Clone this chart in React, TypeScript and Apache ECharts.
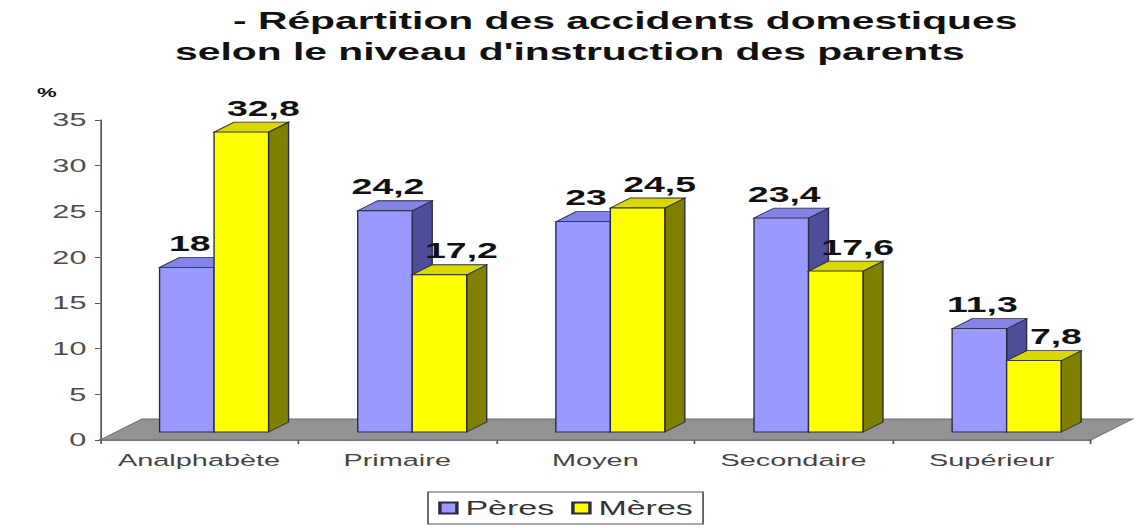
import React, { useEffect, useRef } from "react";
import * as echarts from "echarts";

const titleLines = [
  "- Répartition des accidents domestiques",
  "selon le niveau d'instruction des parents",
];
const categories = ["Analphabète", "Primaire", "Moyen", "Secondaire", "Supérieur"];
const seriesNames = ["Pères", "Mères"];
const peres = [18, 24.2, 23, 23.4, 11.3];
const meres = [32.8, 17.2, 24.5, 17.6, 7.8];
const yTicks = { min: 0, max: 35, interval: 5 };
const unitLabel = "%";

// the reference picture is stretched horizontally; we draw narrower and stretch by S
const S = 1.7;
const W = 1140 / S;
const H = 528;

const FRONT_DX = 15 / S;
const FRONT_DY = -8;
const DEPTH_DX = 20 / S;
const DEPTH_DY = -10;
const FLOOR_DX = 42 / S;
const FLOOR_DY = -21;
const BAR_FRAC = 0.275;
const LABEL_SHIFT = [3 / S, 22 / S];

const palette = [
  { front: "#9999ff", top: "#8484e6", side: "#4d4d99" },
  { front: "#ffff00", top: "#d9d900", side: "#808000" },
];

const fmt = (v: number) => String(v).replace(".", ",");

function makeBarRender(idx: number) {
  return (params: any, api: any) => {
    const i = api.value(0);
    const v = api.value(1);
    const base = api.coord([i, 0]);
    const top = api.coord([i, v]);
    const bw = api.size([1, 0])[0];
    const w = bw * BAR_FRAC;
    const cx = base[0] + FRONT_DX;
    const x0 = idx === 0 ? cx - w : cx;
    const x1 = x0 + w;
    const yb = base[1] + FRONT_DY;
    const yt = top[1] + FRONT_DY;
    const c = palette[idx];
    const stroke = { stroke: "#2a2a40", lineWidth: 0.8 };
    return {
      type: "group",
      children: [
        {
          type: "polygon",
          shape: { points: [[x1, yt], [x1 + DEPTH_DX, yt + DEPTH_DY], [x1 + DEPTH_DX, yb + DEPTH_DY], [x1, yb]] },
          style: { fill: c.side, ...stroke },
        },
        {
          type: "polygon",
          shape: { points: [[x0, yt], [x0 + DEPTH_DX, yt + DEPTH_DY], [x1 + DEPTH_DX, yt + DEPTH_DY], [x1, yt]] },
          style: { fill: c.top, ...stroke },
        },
        {
          type: "rect",
          shape: { x: x0, y: yt, width: w, height: yb - yt },
          style: { fill: c.front, ...stroke },
        },
        {
          type: "text",
          x: (x0 + x1) / 2 + LABEL_SHIFT[idx],
          y: yt + DEPTH_DY - 3,
          style: {
            text: fmt(v),
            fontSize: 22,
            fontWeight: "bold",
            fontFamily: "Liberation Sans, Arial, sans-serif",
            fill: "#111",
            align: "center",
            verticalAlign: "bottom",
          },
        },
      ],
    };
  };
}

function floorRender(params: any, api: any) {
  const cs = params.coordSys;
  const yb = cs.y + cs.height;
  const xl = cs.x;
  const xr = cs.x + cs.width;
  return {
    type: "polygon",
    shape: {
      points: [
        [xl, yb],
        [xr, yb],
        [xr + FLOOR_DX, yb + FLOOR_DY],
        [xl + FLOOR_DX, yb + FLOOR_DY],
      ],
    },
    style: { fill: "#939393", stroke: "#6a6a6a", lineWidth: 0.8 },
  };
}

export default function App() {
  const ref = useRef<HTMLDivElement>(null);
  useEffect(() => {
    if (!ref.current) return;
    const chart = echarts.init(ref.current, undefined, { renderer: "svg" });
    const font = "Liberation Sans, Arial, sans-serif";
    chart.setOption({
      animation: false,
      backgroundColor: "#ffffff",
      textStyle: { fontFamily: font },
      title: [
        {
          text: titleLines[0],
          left: 233 / S,
          top: 9,
          padding: 0,
          textStyle: { fontSize: 24, fontWeight: "bold", color: "#111", fontFamily: font },
        },
        {
          text: titleLines[1],
          left: 175 / S,
          top: 40,
          padding: 0,
          textStyle: { fontSize: 24, fontWeight: "bold", color: "#111", fontFamily: font },
        },
      ],
      graphic: [
        {
          type: "text",
          left: 37 / S,
          top: 86,
          style: { text: unitLabel, fontSize: 13, fontWeight: "bold", fill: "#111", fontFamily: font },
        },
      ],
      legend: {
        left: 428 / S,
        top: 492,
        padding: [6, 6],
        itemGap: 10,
        itemWidth: 10,
        itemHeight: 11,
        borderColor: "#555",
        borderWidth: 1,
        textStyle: { fontSize: 20, color: "#333", fontFamily: font },
        data: seriesNames.map((n) => ({ name: n, icon: "rect" })),
      },
      grid: { left: 100 / S, right: W - 1090 / S, top: 120, bottom: 88 },
      xAxis: {
        type: "category",
        data: categories,
        axisLine: { show: true, lineStyle: { color: "#555", width: 1.5 } },
        axisTick: { show: true, length: 4, lineStyle: { color: "#555" } },
        axisLabel: { fontSize: 17, color: "#444", margin: 12, interval: 0, fontFamily: font },
      },
      yAxis: {
        type: "value",
        min: yTicks.min,
        max: yTicks.max,
        interval: yTicks.interval,
        splitLine: { show: false },
        axisLine: { show: true, lineStyle: { color: "#555", width: 1 } },
        axisTick: { show: true, length: 3, lineStyle: { color: "#555" } },
        axisLabel: { fontSize: 18, color: "#4d4d4d", margin: 8, fontFamily: font },
      },
      series: [
        {
          type: "custom",
          name: "floor",
          z: 1,
          silent: true,
          renderItem: floorRender,
          data: [[0, 0]],
          encode: { x: 0, y: 1 },
        },
        {
          type: "custom",
          name: seriesNames[0],
          z: 3,
          itemStyle: { color: palette[0].front, borderColor: "#2a2a40", borderWidth: 1 },
          renderItem: makeBarRender(0),
          data: peres.map((v, i) => [i, v]),
          encode: { x: 0, y: 1 },
        },
        {
          type: "custom",
          name: seriesNames[1],
          z: 4,
          itemStyle: { color: palette[1].front, borderColor: "#2a2a40", borderWidth: 1 },
          renderItem: makeBarRender(1),
          data: meres.map((v, i) => [i, v]),
          encode: { x: 0, y: 1 },
        },
      ],
    });
    return () => chart.dispose();
  }, []);
  return (
    <div
      ref={ref}
      style={{
        position: "absolute",
        left: 0,
        top: 0,
        width: `${W}px`,
        height: `${H}px`,
        transform: `scaleX(${S})`,
        transformOrigin: "0 0",
        background: "#fff",
      }}
    />
  );
}
